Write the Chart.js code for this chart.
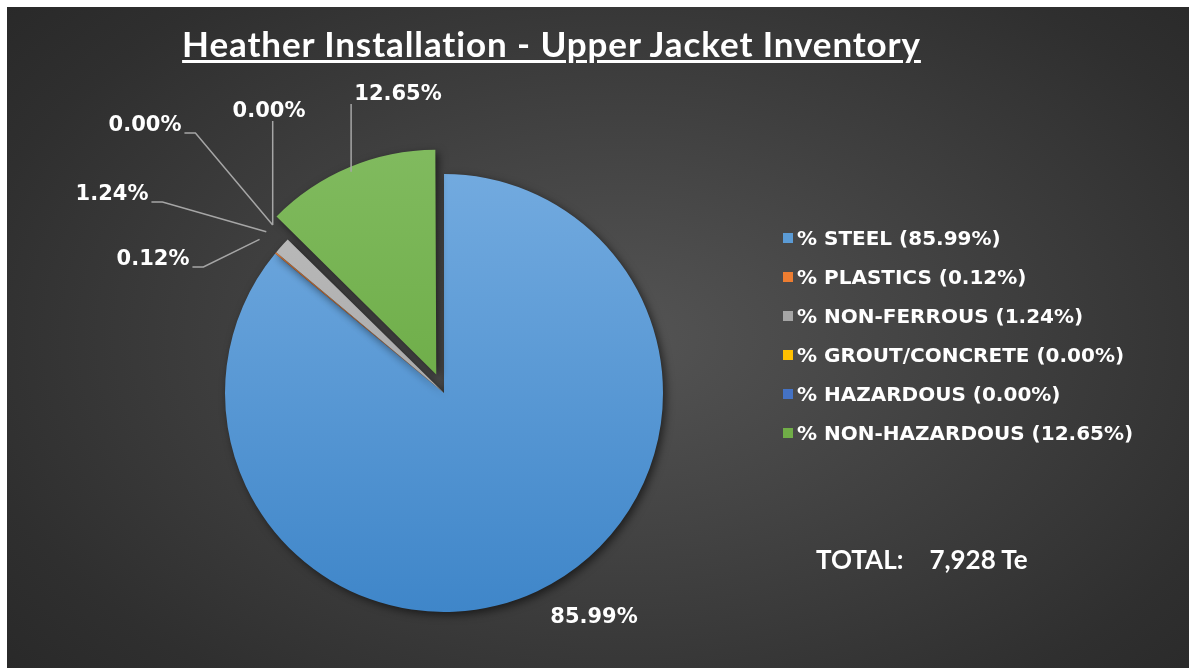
<!DOCTYPE html>
<html>
<head>
<meta charset="utf-8">
<script src="https://cdn.jsdelivr.net/npm/chart.js@4.4.1/dist/chart.umd.min.js"></script>
<style>
  html, body { margin: 0; padding: 0; background: #fff; }
  body { width: 1189px; height: 668px; overflow: hidden; position: relative; }
  #panel {
    position: absolute; left: 7px; top: 7px; width: 1182px; height: 661px;
    background: radial-gradient(ellipse 75% 85% at 52% 50%, #545454 0%, #434343 35%, #2f2f2f 75%, #262626 100%);
    overflow: hidden;
  }
  #chart-wrap { position: absolute; left: 0; top: 0; width: 1182px; height: 661px; }
  #title {
    position: absolute; left: 0; top: 19px; width: 1089px; text-align: center;
    font: bold 35px/35px Lato, "Open Sans", sans-serif; color: #fff; letter-spacing: 0.9px;
    text-decoration: underline; text-decoration-thickness: 2.5px; text-underline-offset: 3px;
  }
  #legend { position: absolute; left: 776px; top: 211px; }
  .lg-row { display: flex; align-items: center; height: 39px; font: bold 20px "DejaVu Sans", sans-serif; color: #fff; white-space: nowrap; }
  .lg-box { width: 10px; height: 10px; margin-right: 4px; flex: none; }
  #total { position: absolute; left: 809px; top: 539px; font: bold 26px/26px Lato, sans-serif; color: #fff; white-space: nowrap; }
</style>
</head>
<body>
<div id="panel">
  <div id="chart-wrap"><canvas id="chart-pie"></canvas></div>
  <div id="title"></div>
  <div id="legend"></div>
  <div id="total"></div>
</div>
<script>
// Heather Installation · Upper Jacket Inventory — material split

const CHART_TITLE = "Heather Installation - Upper Jacket Inventory";
const CATEGORIES = ["% STEEL", "% PLASTICS", "% NON-FERROUS", "% GROUT/CONCRETE", "% HAZARDOUS", "% NON-HAZARDOUS"];
const SHARES = [85.99, 0.12, 1.24, 0.00, 0.00, 12.65];
const TOTAL_TE = 7928;

// colours (Excel office palette) + top/bottom shades for the slice gradient
const BASE_COLOR = ["#5b9bd5", "#ed7d31", "#a5a5a5", "#ffc000", "#4472c4", "#70ad47"];
const SHADE_TOP  = ["#72aadf", "#f08a45", "#bdbdbd", "#ffc81a", "#5282d0", "#80ba5e"];
const SHADE_BOT  = ["#3f86c9", "#d86c22", "#9a9a9a", "#eeb000", "#3563b5", "#5fa336"];

// only the non-hazardous slice is pulled out (arc offset is applied /4 by Chart.js)
const EXPLODE = [0, 0, 0, 0, 0, 80];

const RADIUS = 219;
const LEADER_EXT = 21;
// label centre relative to pie centre + leader style
const LABEL_POS = [
  { dx: 150,  dy: 225,  leader: null },
  { dx: -291, dy: -133, leader: "h" },
  { dx: -332, dy: -198, leader: "h" },
  { dx: -299, dy: -267, leader: "h" },
  { dx: -175, dy: -281, leader: "v" },
  { dx: -46,  dy: -298, leader: "v" },
];

document.getElementById("title").textContent = CHART_TITLE;
document.getElementById("legend").innerHTML = CATEGORIES.map((c, i) =>
  `<div class="lg-row"><span class="lg-box" style="background:${BASE_COLOR[i]}"></span>${c} (${SHARES[i].toFixed(2)}%)</div>`
).join("");
document.getElementById("total").innerHTML =
  `<span>TOTAL:</span><span style="margin-left:26px">${TOTAL_TE.toLocaleString("en-GB")} Te</span>`;

function sliceFill(ctx) {
  const i = ctx.dataIndex;
  const area = ctx.chart.chartArea;
  if (!area) return BASE_COLOR[i];
  const cy = (area.top + area.bottom) / 2;
  const g = ctx.chart.ctx.createLinearGradient(0, cy - RADIUS, 0, cy + RADIUS);
  g.addColorStop(0, SHADE_TOP[i]);
  g.addColorStop(1, SHADE_BOT[i]);
  return g;
}

// drop shadow under the slices
const sliceShadow = {
  id: "sliceShadow",
  beforeDatasetsDraw(chart) {
    const c = chart.ctx;
    c.save();
    c.shadowColor = "rgba(0,0,0,0.55)";
    c.shadowBlur = 9;
    c.shadowOffsetX = 3;
    c.shadowOffsetY = 3;
  },
  afterDatasetsDraw(chart) { chart.ctx.restore(); },
};

// percentage labels with leader lines
const outsideLabels = {
  id: "outsideLabels",
  afterDraw(chart) {
    const c = chart.ctx;
    const arcs = chart.getDatasetMeta(0).data;
    c.save();
    c.font = "bold 21px 'DejaVu Sans', sans-serif";
    c.textAlign = "center";
    c.textBaseline = "middle";
    arcs.forEach((arc, i) => {
      const { x, y, startAngle, endAngle, outerRadius } = arc.getProps(["x", "y", "startAngle", "endAngle", "outerRadius"], true);
      const pos = LABEL_POS[i];
      const lx = x + pos.dx, ly = y + pos.dy;
      const txt = SHARES[i].toFixed(2) + "%";
      const w = c.measureText(txt).width;
      if (pos.leader) {
        const mid = (startAngle + endAngle) / 2;
        const ex = x + Math.cos(mid) * (outerRadius + LEADER_EXT);
        const ey = y + Math.sin(mid) * (outerRadius + LEADER_EXT);
        c.strokeStyle = "#a6a6a6";
        c.lineWidth = 1.5;
        c.beginPath();
        if (pos.leader === "h") {
          const sx = lx + w / 2 + 3, sy = ly + 7;
          c.moveTo(sx, sy);
          c.lineTo(sx + 11, sy);
          c.lineTo(ex, ey);
        } else {
          c.moveTo(ex, ly + 9);
          c.lineTo(ex, ey);
        }
        c.stroke();
      }
      c.fillStyle = "#fff";
      c.fillText(txt, lx, ly);
    });
    c.restore();
  },
};

new Chart(document.getElementById("chart-pie"), {
  type: "pie",
  data: {
    labels: CATEGORIES,
    datasets: [{
      data: SHARES,
      backgroundColor: sliceFill,
      borderWidth: 0,
      offset: EXPLODE,
    }],
  },
  options: {
    responsive: true,
    maintainAspectRatio: false,
    animation: false,
    radius: RADIUS,
    layout: { padding: { left: 160, right: 468, top: 140, bottom: 29 } },
    plugins: { legend: { display: false }, tooltip: { enabled: false }, title: { display: false } },
  },
  plugins: [sliceShadow, outsideLabels],
});
</script>
</body>
</html>
